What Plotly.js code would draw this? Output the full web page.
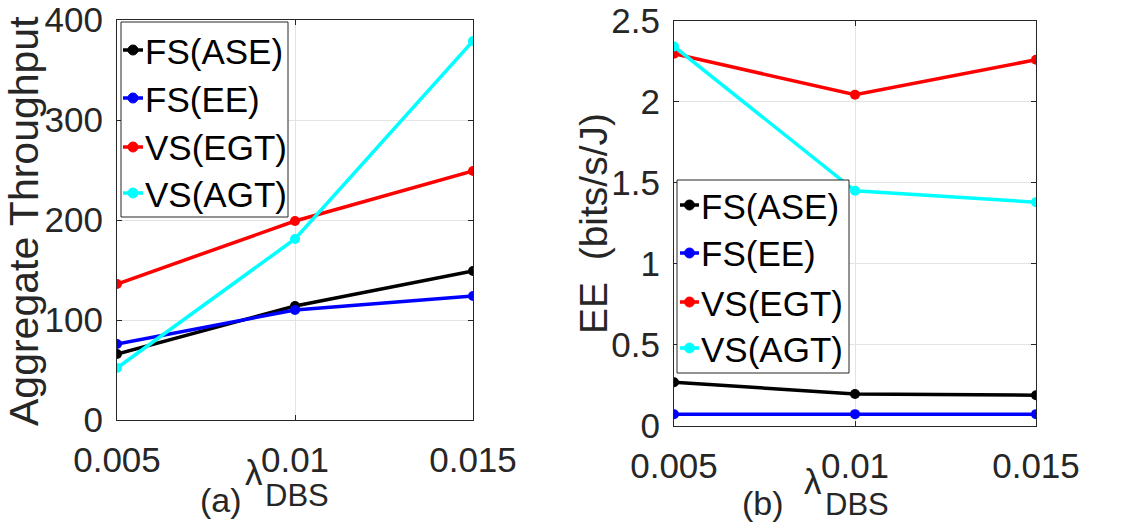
<!DOCTYPE html>
<html>
<head>
<meta charset="utf-8">
<script src="https://cdn.plot.ly/plotly-3.0.1.min.js"></script>
<style>
  html, body { margin: 0; padding: 0; background: #fff; }
  #chart { width: 1130px; height: 527px; }
</style>
</head>
<body>
<div id="chart"></div>
<script>
// DBS density values on the x axis
const lambdaDBS = [0.005, 0.01, 0.015];
const xTickLabels = ['0.005', '0.01', '0.015'];

// Series names and colours
const seriesNames = ['FS(ASE)', 'FS(EE)', 'VS(EGT)', 'VS(AGT)'];
const seriesColors = ['#000000', '#0000ff', '#ff0000', '#00ffff'];

// (a) Aggregate throughput
const throughputFSASE = [66, 114, 149];
const throughputFSEE = [76, 110, 124];
const throughputVSEGT = [136, 199, 249];
const throughputVSAGT = [52, 181, 379];

// (b) Energy efficiency (bits/s/J)
const eeFSASE = [0.27, 0.197, 0.19];
const eeFSEE = [0.072, 0.073, 0.073];
const eeVSEGT = [2.295, 2.042, 2.258];
const eeVSAGT = [2.34, 1.45, 1.38];

const throughputSeries = [throughputFSASE, throughputFSEE, throughputVSEGT, throughputVSAGT];
const eeSeries = [eeFSASE, eeFSEE, eeVSEGT, eeVSAGT];

const W = 1130, H = 527;
const px = v => v / W;
const py = v => 1 - v / H;

const FONT = 'Liberation Sans, Arial, Helvetica, sans-serif';
const AXIS_COLOR = '#262626';
const GRID_COLOR = '#e3e3e3';

const traces = [];
seriesNames.forEach((name, i) => {
  traces.push({
    x: lambdaDBS, y: throughputSeries[i], name: name,
    type: 'scatter', mode: 'lines+markers', showlegend: false,
    line: { color: seriesColors[i], width: 3.5 },
    marker: { color: seriesColors[i], size: 10, symbol: 'circle' },
    xaxis: 'x', yaxis: 'y'
  });
  traces.push({
    x: lambdaDBS, y: eeSeries[i], name: name,
    type: 'scatter', mode: 'lines+markers', showlegend: false,
    line: { color: seriesColors[i], width: 3.5 },
    marker: { color: seriesColors[i], size: 10, symbol: 'circle' },
    xaxis: 'x2', yaxis: 'y2'
  });
});

function xAxis(domain, anchor) {
  return {
    domain: domain, anchor: anchor,
    range: [0.005, 0.015],
    tickvals: lambdaDBS, ticktext: xTickLabels,
    ticks: 'inside', ticklen: 5, tickwidth: 1, tickcolor: AXIS_COLOR,
    showline: true, linecolor: AXIS_COLOR, linewidth: 1, mirror: 'ticks',
    showgrid: true, gridcolor: GRID_COLOR, gridwidth: 1,
    zeroline: false,
    tickfont: { family: FONT, size: 35, color: AXIS_COLOR },
    ticklabelstandoff: 9
  };
}
function yAxis(domain, anchor, range, dtick) {
  return {
    domain: domain, anchor: anchor,
    range: range, dtick: dtick, tick0: 0,
    ticks: 'inside', ticklen: 5, tickwidth: 1, tickcolor: AXIS_COLOR,
    showline: true, linecolor: AXIS_COLOR, linewidth: 1, mirror: 'ticks',
    showgrid: true, gridcolor: GRID_COLOR, gridwidth: 1,
    zeroline: false,
    tickfont: { family: FONT, size: 35, color: AXIS_COLOR },
    ticklabelstandoff: 6
  };
}

function label(text, x, y, size, angle, anchor) {
  return {
    text: text, xref: 'paper', yref: 'paper',
    x: px(x), y: py(y), xanchor: anchor || 'center', yanchor: 'middle',
    showarrow: false, textangle: angle || 0,
    font: { family: FONT, size: size, color: AXIS_COLOR }
  };
}

// Legend boxes: frame, short line with a dot, and the series name
const shapes = [];
const annotations = [];
function addLegend(box, rows, lineX0, lineX1, textX) {
  shapes.push({
    type: 'rect', xref: 'paper', yref: 'paper', layer: 'above',
    x0: px(box[0]), x1: px(box[1]), y0: py(box[3]), y1: py(box[2]),
    fillcolor: '#ffffff', line: { color: AXIS_COLOR, width: 1 }
  });
  seriesNames.forEach((name, i) => {
    const yc = rows[i];
    const mx = (lineX0 + lineX1) / 2;
    shapes.push({
      type: 'line', xref: 'paper', yref: 'paper', layer: 'above',
      x0: px(lineX0), x1: px(lineX1), y0: py(yc), y1: py(yc),
      line: { color: seriesColors[i], width: 3.5 }
    });
    shapes.push({
      type: 'circle', xref: 'paper', yref: 'paper', layer: 'above',
      x0: px(mx - 5), x1: px(mx + 5), y0: py(yc + 5), y1: py(yc - 5),
      fillcolor: seriesColors[i], line: { color: seriesColors[i], width: 1 }
    });
    annotations.push({
      text: name, xref: 'paper', yref: 'paper',
      x: px(textX), y: py(yc + 1), xanchor: 'left', yanchor: 'middle',
      showarrow: false, xshift: -2,
      font: { family: FONT, size: 35, color: '#000000' }
    });
  });
}
addLegend([121, 288, 22, 217], [50, 98, 147, 193], 123, 143, 145);
addLegend([677, 849, 180, 373], [205, 253, 302, 348], 680, 699, 701);

annotations.push(
  label('Aggregate Throughput', 24, 221, 41, -90),
  label('EE  (bits/s/J)', 593, 224, 39, -90),
  label('(a)', 221, 500, 34),
  label('λ', 254, 472, 35),
  label('DBS', 297, 495, 31),
  label('(b)', 763, 503, 34),
  label('λ', 813, 481, 35),
  label('DBS', 857, 504, 31)
);

const layout = {
  width: W, height: H,
  margin: { l: 0, r: 0, t: 0, b: 0, pad: 0 },
  paper_bgcolor: '#ffffff', plot_bgcolor: '#ffffff',
  showlegend: false,
  xaxis: xAxis([px(117), px(473)], 'y'),
  yaxis: yAxis([py(420), py(20)], 'x', [0, 400], 100),
  xaxis2: xAxis([px(674), px(1036)], 'y2'),
  yaxis2: yAxis([py(426), py(20.5)], 'x2', [0, 2.5], 0.5),
  shapes: shapes,
  annotations: annotations
};

Plotly.newPlot('chart', traces, layout, { staticPlot: true, displayModeBar: false });
</script>
</body>
</html>
